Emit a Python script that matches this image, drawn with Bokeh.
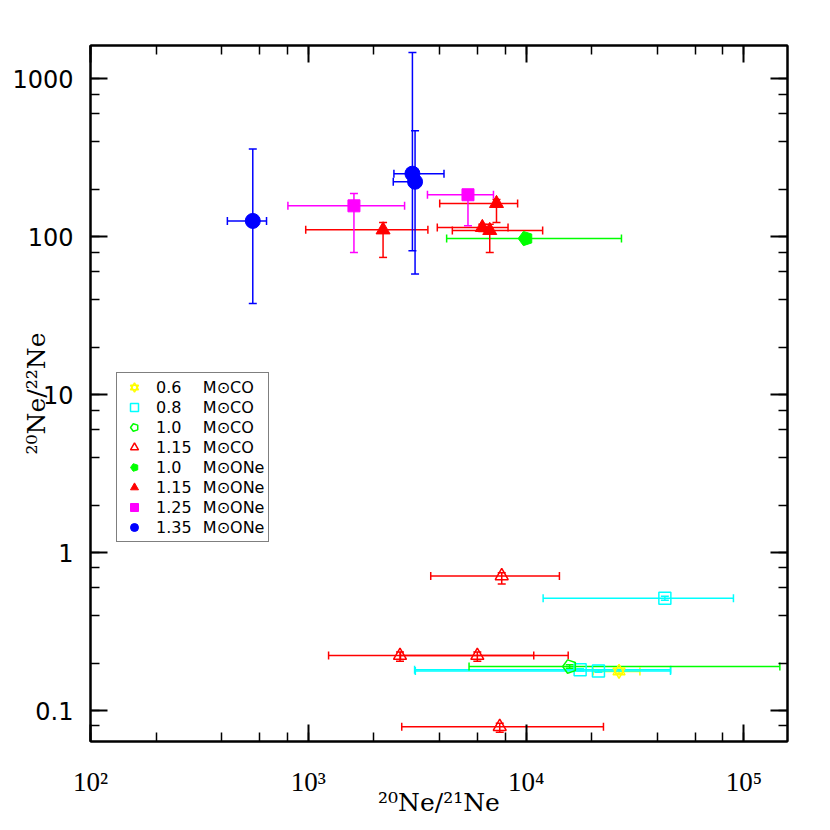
import math
from bokeh.plotting import figure
from bokeh.models import (Range1d, LogAxis, LogTicker, Whisker, TeeHead, ColumnDataSource,
                          Legend, LegendItem, CustomJSTickFormatter)
from bokeh.embed import file_html
from bokeh.resources import INLINE

# ---------------- data ----------------
# CO 0.6 Msun (yellow star)
co06_x = [26700]; co06_y = [0.177]
co06_xlo = [20300]; co06_xhi = [33300]
co06_ylo = [0.172]; co06_yhi = [0.182]

# CO 0.8 Msun (cyan open square)
co08_x = [43350, 17700, 21480]; co08_y = [0.514, 0.181, 0.178]
co08_xlo = [11970, 3076, 3100]; co08_xhi = [89500, 46100, 46000]
co08_ylo = [0.500, 0.178, 0.175]; co08_yhi = [0.530, 0.184, 0.181]

# CO 1.0 Msun (green open pentagon)
co10_x = [15850]; co10_y = [0.190]
co10_xlo = [5470]; co10_xhi = [146200]
co10_ylo = [0.185]; co10_yhi = [0.195]

# CO 1.15 Msun (red open triangle)
co115_x = [7727, 2636, 5970, 7566]; co115_y = [0.712, 0.223, 0.223, 0.079]
co115_xlo = [3648, 1239, 2650, 2685]; co115_xhi = [14220, 10840, 15600, 22650]
co115_ylo = [0.634, 0.205, 0.205, 0.073]; co115_yhi = [0.745, 0.235, 0.235, 0.083]

# ONe 1.0 Msun (green filled pentagon)
one10_x = [9955]; one10_y = [97.5]
one10_xlo = [4316]; one10_xhi = [27400]
one10_ylo = [94.0]; one10_yhi = [101.0]

# ONe 1.15 Msun (red filled triangle)
one115_x = [2204, 7311, 6295, 6808]; one115_y = [110.6, 162.6, 114.6, 109.7]
one115_xlo = [973, 4011, 3910, 4584]; one115_xhi = [3540, 9140, 8260, 11910]
one115_ylo = [74.0, 123.0, 108.0, 79.5]; one115_yhi = [123.0, 172.0, 120.0, 120.0]

# ONe 1.25 Msun (magenta filled square)
one125_x = [1620, 5408]; one125_y = [157.0, 184.5]
one125_xlo = [806, 3524]; one125_xhi = [2767, 7080]
one125_ylo = [79.5, 117.5]; one125_yhi = [188.0, 192.0]

# ONe 1.35 Msun (blue filled circle)
one135_x = [556, 3006, 3091]; one135_y = [126.0, 251.0, 223.0]
one135_xlo = [425, 2472, 2455]; one135_xhi = [643, 4197, 3250]
one135_ylo = [37.8, 81.5, 58.1]; one135_yhi = [359.0, 1469.0, 469.0]

labels = ["0.6\u2007\u2002\u2009M\u2299CO", "0.8\u2007\u2002\u2009M\u2299CO",
          "1.0\u2007\u2002\u2009M\u2299CO", "1.15\u2002\u2009M\u2299CO",
          "1.0\u2007\u2002\u2009M\u2299ONe", "1.15\u2002\u2009M\u2299ONe",
          "1.25\u2002\u2009M\u2299ONe", "1.35\u2002\u2009M\u2299ONe"]

x_range = (100, 158500)
y_range = (0.0637, 1626)

# ---------------- figure ----------------
p = figure(width=830, height=830, x_axis_type="log", y_axis_type="log",
           x_range=Range1d(*x_range), y_range=Range1d(*y_range),
           output_backend="svg", toolbar_location=None,
           min_border_left=90, min_border_right=43, min_border_top=45, min_border_bottom=89)
p.xgrid.visible = False
p.ygrid.visible = False
p.outline_line_color = "black"
p.outline_line_width = 2
p.background_fill_color = "white"
p.border_fill_color = "white"

xfmt = CustomJSTickFormatter(code="""
const s = {'0':'\u2070','1':'\u00b9','2':'\u00b2','3':'\u00b3','4':'\u2074','5':'\u2075','6':'\u2076','7':'\u2077','8':'\u2078','9':'\u2079','-':'\u207b'};
const e = Math.round(Math.log10(tick));
return '10' + String(e).split('').map(c => s[c]).join('');
""")
yfmt = CustomJSTickFormatter(code="return tick >= 1 ? tick.toFixed(0) : tick.toString();")

def style_axis(ax):
    ax.major_tick_in = 17
    ax.major_tick_out = 0
    ax.minor_tick_in = 9
    ax.minor_tick_out = 0
    ax.axis_line_width = 2
    ax.major_tick_line_width = 2
    ax.minor_tick_line_width = 1.5
    ax.axis_label_text_font_style = "normal"
    ax.axis_label_text_color = "black"
    ax.major_label_text_color = "black"

xa = p.xaxis[0]
style_axis(xa)
xa.ticker = LogTicker(mantissas=[1])
xa.formatter = xfmt
xa.major_label_text_font = "Liberation Serif"
xa.major_label_text_font_size = "27px"
xa.major_label_standoff = 25
xa.axis_label = "\u00b2\u2070Ne/\u00b2\u00b9Ne"
xa.axis_label_text_font = "DejaVu Serif"
xa.axis_label_text_font_size = "25px"
xa.axis_label_standoff = -12

ya = p.yaxis[0]
style_axis(ya)
ya.ticker = LogTicker(mantissas=[1])
ya.formatter = yfmt
ya.major_label_text_font = "DejaVu Sans"
ya.major_label_text_font_size = "24px"
ya.major_label_standoff = 17
ya.axis_label = "\u00b2\u2070Ne/\u00b2\u00b2Ne"
ya.axis_label_text_font = "DejaVu Serif"
ya.axis_label_text_font_size = "25px"
ya.axis_label_standoff = -42

top = LogAxis(ticker=LogTicker(mantissas=[1]))
right = LogAxis(ticker=LogTicker(mantissas=[1]))
style_axis(top); style_axis(right)
top.major_label_text_color = None
right.major_label_text_color = None
p.add_layout(top, "above")
p.add_layout(right, "right")

def errbars(src, color):
    for dim, base, lo, hi in (("width", "y", "xlo", "xhi"), ("height", "x", "ylo", "yhi")):
        w = Whisker(source=src, base=base, lower=lo, upper=hi, dimension=dim,
                    line_color=color, line_width=1.5, level="underlay",
                    lower_head=TeeHead(size=8, line_color=color, line_width=1.5),
                    upper_head=TeeHead(size=8, line_color=color, line_width=1.5))
        p.add_layout(w)

def src(x, y, xlo, xhi, ylo, yhi):
    return ColumnDataSource(dict(x=x, y=y, xlo=xlo, xhi=xhi, ylo=ylo, yhi=yhi))

YEL, CYA, GRN, RED, MAG, BLU = "#FFFF00", "#00FFFF", "#00FF00", "#FF0000", "#FF00FF", "#0000FF"

s1 = src(co06_x, co06_y, co06_xlo, co06_xhi, co06_ylo, co06_yhi); errbars(s1, YEL)
r1a = p.scatter("x", "y", source=s1, marker="triangle", size=12, fill_color=None, line_color=YEL, line_width=1.5)
r1b = p.scatter("x", "y", source=s1, marker="inverted_triangle", size=12, fill_color=None, line_color=YEL, line_width=1.5)

s2 = src(co08_x, co08_y, co08_xlo, co08_xhi, co08_ylo, co08_yhi); errbars(s2, CYA)
r2 = p.scatter("x", "y", source=s2, marker="square", size=12, fill_color=None, line_color=CYA, line_width=1.5)

s3 = src(co10_x, co10_y, co10_xlo, co10_xhi, co10_ylo, co10_yhi); errbars(s3, GRN)
r3 = p.ngon("x", "y", source=s3, radius=7, radius_units="screen", n=5, angle=math.pi / 2,
            fill_color=None, line_color=GRN, line_width=1.5)

s4 = src(co115_x, co115_y, co115_xlo, co115_xhi, co115_ylo, co115_yhi); errbars(s4, RED)
r4 = p.scatter("x", "y", source=s4, marker="triangle", size=13, fill_color=None, line_color=RED, line_width=1.5)

s5 = src(one10_x, one10_y, one10_xlo, one10_xhi, one10_ylo, one10_yhi); errbars(s5, GRN)
r5 = p.ngon("x", "y", source=s5, radius=7.5, radius_units="screen", n=5, angle=math.pi / 2,
            fill_color=GRN, line_color=GRN, line_width=1)

s6 = src(one115_x, one115_y, one115_xlo, one115_xhi, one115_ylo, one115_yhi); errbars(s6, RED)
r6 = p.scatter("x", "y", source=s6, marker="triangle", size=14, fill_color=RED, line_color=RED)

s7 = src(one125_x, one125_y, one125_xlo, one125_xhi, one125_ylo, one125_yhi); errbars(s7, MAG)
r7 = p.scatter("x", "y", source=s7, marker="square", size=12, fill_color=MAG, line_color=MAG)

s8 = src(one135_x, one135_y, one135_xlo, one135_xhi, one135_ylo, one135_yhi); errbars(s8, BLU)
r8 = p.scatter("x", "y", source=s8, marker="circle", size=15, fill_color=BLU, line_color=BLU)

items = [LegendItem(label=labels[0], renderers=[r1a, r1b]),
         LegendItem(label=labels[1], renderers=[r2]),
         LegendItem(label=labels[2], renderers=[r3]),
         LegendItem(label=labels[3], renderers=[r4]),
         LegendItem(label=labels[4], renderers=[r5]),
         LegendItem(label=labels[5], renderers=[r6]),
         LegendItem(label=labels[6], renderers=[r7]),
         LegendItem(label=labels[7], renderers=[r8])]
legend = Legend(items=items, location=(26, 199), border_line_color="black", border_line_width=1.5,
                background_fill_color="white", background_fill_alpha=1.0,
                label_text_font="DejaVu Sans", label_text_font_size="16px", label_text_color="black",
                glyph_width=26, glyph_height=20, label_height=20, label_standoff=9,
                padding=4, spacing=0, margin=0)
p.add_layout(legend)

open("out.html", "w").write(file_html(p, INLINE))
